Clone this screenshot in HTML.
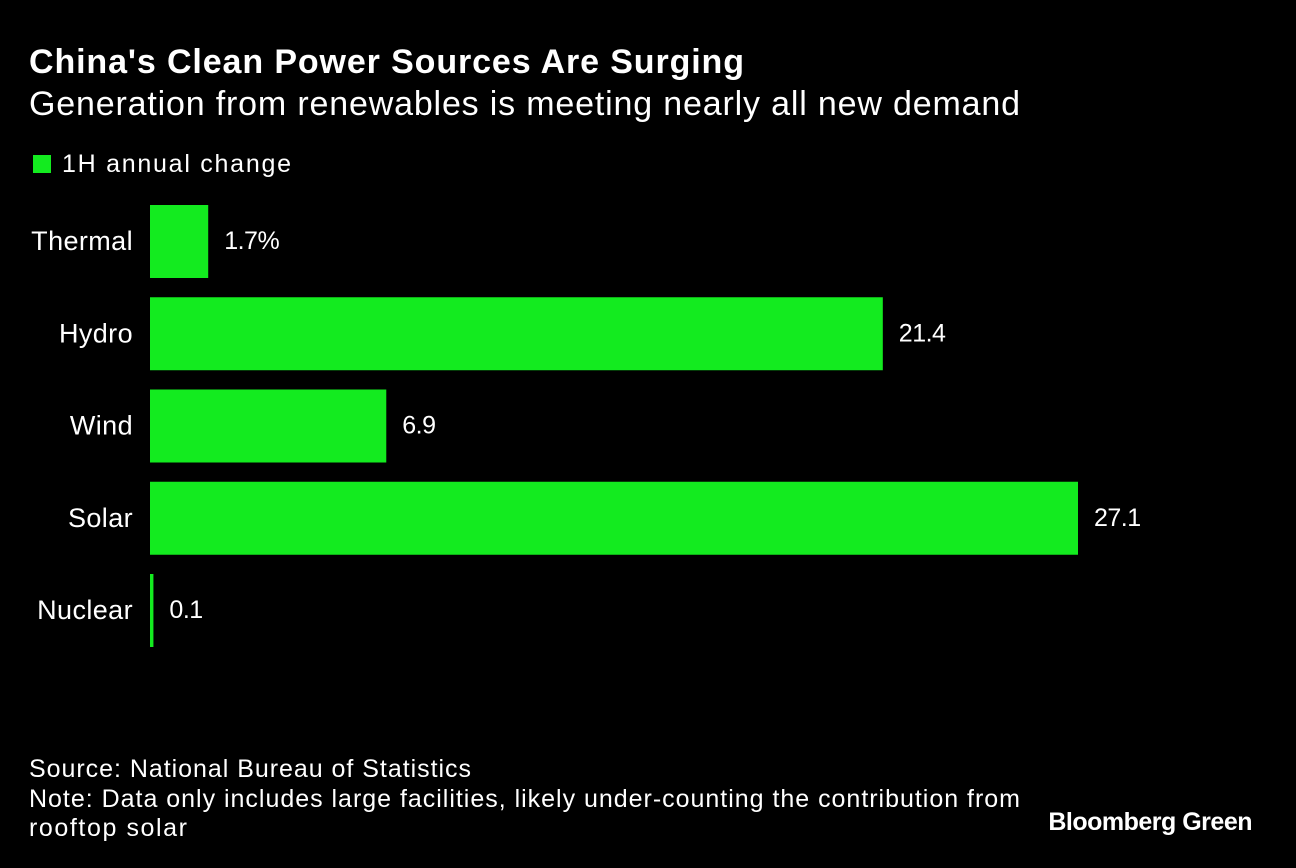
<!DOCTYPE html>
<html><head><meta charset="utf-8"><style>
body{margin:0;background:#000;width:1296px;height:868px;overflow:hidden;font-family:"Liberation Sans",sans-serif;color:#fff}
</style></head><body>
<svg id="chart" width="1296" height="868" style="position:absolute;left:0;top:0" font-family="Liberation Sans, sans-serif" fill="#fff">
<text x="29" y="73" font-size="34" font-weight="bold" textLength="715" lengthAdjust="spacing">China's Clean Power Sources Are Surging</text>
<text x="29" y="115" font-size="34" textLength="991" lengthAdjust="spacing">Generation from renewables is meeting nearly all new demand</text>
<rect x="33" y="155" width="18" height="18" fill="#13eb1f"/>
<text x="62" y="172" font-size="25" textLength="229" lengthAdjust="spacing">1H annual change</text>
<text x="29" y="777" font-size="25" textLength="442" lengthAdjust="spacing">Source: National Bureau of Statistics</text>
<text x="29" y="807" font-size="25" textLength="991" lengthAdjust="spacing">Note: Data only includes large facilities, likely under-counting the contribution from</text>
<text x="29" y="836" font-size="25" textLength="158" lengthAdjust="spacing">rooftop solar</text>
<text x="1252" y="830" font-size="25" font-weight="bold" text-anchor="end" letter-spacing="-0.5">Bloomberg Green</text>
</svg>
<script>
const categories=["Thermal","Hydro","Wind","Solar","Nuclear"];
const values=[1.7,21.4,6.9,27.1,0.1];
const valueLabels=["1.7%","21.4","6.9","27.1","0.1"];
const svg=document.getElementById('chart');
const NS="http://www.w3.org/2000/svg";
const x0=150,scale=928/27.1;
const xs=v=>x0+v*scale;
const ys=i=>205+i*92.25;
categories.forEach((c,i)=>{
 const y=ys(i),w=Math.max(xs(values[i])-x0,3);
 const r=document.createElementNS(NS,'rect');
 r.setAttribute('x',x0);r.setAttribute('y',y);r.setAttribute('width',w);r.setAttribute('height',73);r.setAttribute('fill','#13eb1f');
 
 
 svg.appendChild(r);
 const t=document.createElementNS(NS,'text');
 t.setAttribute('x',133);t.setAttribute('y',y+45);t.setAttribute('text-anchor','end');t.setAttribute('font-size','27');t.setAttribute('fill','#fff');t.setAttribute('letter-spacing','0.4');
 t.textContent=c;
 
 
 svg.appendChild(t);
 const v=document.createElementNS(NS,'text');
 v.setAttribute('x',x0+w+16);v.setAttribute('y',y+44);v.setAttribute('font-size','25');v.setAttribute('fill','#fff');v.setAttribute('letter-spacing','-0.5');
 v.textContent=valueLabels[i];
 
 
 svg.appendChild(v);
});
</script>
</body></html>
